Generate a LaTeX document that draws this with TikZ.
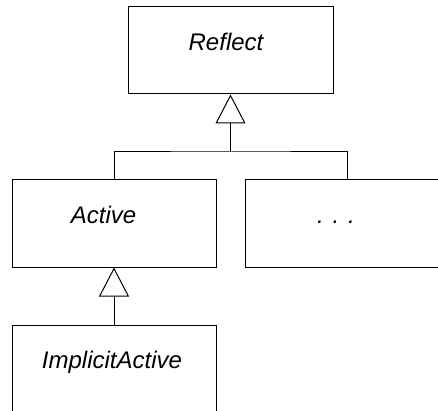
\documentclass[tikz,border=0pt]{standalone}
\usepackage{fontspec}
\setmainfont{Liberation Sans}
\usetikzlibrary{arrows.meta}
\begin{document}
\begin{tikzpicture}[x=1pt,y=-1pt,
    cls/.style={draw, line width=1pt, minimum width=204pt, minimum height=87pt, inner sep=0pt},
    txt/.style={text height=16pt, text depth=16pt, inner sep=0pt,
        font=\fontsize{24}{28}\selectfont\itshape},
    isa/.style={line width=1pt, -{Triangle[open, width=30pt, length=29pt]}}]
\useasboundingbox (0,0) rectangle (438,411);
\node[cls, minimum width=205pt, label={[txt, xshift=-4.5pt]center:Reflect}] (reflect) at (230.5,50.5) {};
\node[cls, label={[txt, xshift=-10.5pt]center:Active}] (active) at (114,223.5) {};
\node[cls, label={[txt, xshift=-11pt]center:. . .}] (dots) at (347,223.5) {};
\node[cls, label={[txt, xshift=-2pt]center:ImplicitActive}] (implicit) at (114,368.5) {};
\coordinate (bus) at (230.5,152);
\draw[isa] (bus) -- (reflect.south);
\draw[line width=1pt] (active.north) |- (bus) -| (dots.north);
\draw[isa] (implicit.north) -- (active.south);
\end{tikzpicture}
\end{document}
